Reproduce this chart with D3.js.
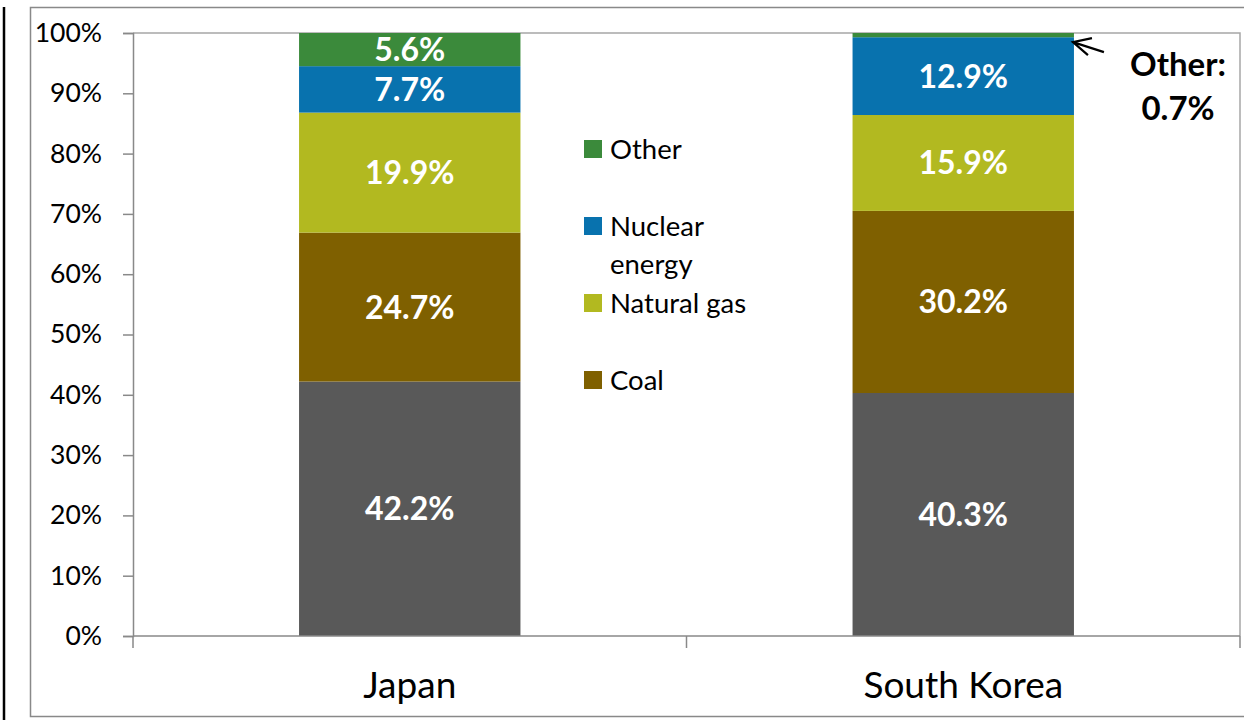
<!DOCTYPE html>
<html><head><meta charset="utf-8">
<script src="https://cdn.jsdelivr.net/npm/d3@7"></script>
<style>
html,body{margin:0;padding:0;background:#fff;}
svg{display:block;font-family:Lato, "Open Sans", sans-serif;}
</style></head>
<body><svg id="chart" width="1244" height="720"></svg>
<script>
const categories = ["Japan", "South Korea"];
const seriesNames = ["Oil", "Coal", "Natural gas", "Nuclear energy", "Other"];
const oilValues = [42.2, 40.3];
const coalValues = [24.7, 30.2];
const gasValues = [19.9, 15.9];
const nuclearValues = [7.7, 12.9];
const otherValues = [5.6, 0.7];
const seriesColors = ["#595959", "#7f6000", "#b2b920", "#0872ae", "#3b8a3b"];
const yTicks = [0, 10, 20, 30, 40, 50, 60, 70, 80, 90, 100];
const legendItems = ["Other", "Nuclear energy", "Natural gas", "Coal"];

const rows = categories.map((c, i) => ({
  cat: c,
  "Oil": oilValues[i], "Coal": coalValues[i], "Natural gas": gasValues[i],
  "Nuclear energy": nuclearValues[i], "Other": otherValues[i]
}));

const svg = d3.select("#chart");
const L = 133, R = 1240, T = 33, B = 636;

// outer decorations
svg.append("line").attr("x1", 4).attr("x2", 4).attr("y1", 7).attr("y2", 720)
  .attr("stroke", "#000").attr("stroke-width", 2.5);
svg.append("rect").attr("x", 30.5).attr("y", 7.5).attr("width", 1230).attr("height", 709)
  .attr("fill", "none").attr("stroke", "#898989").attr("stroke-width", 1.5);

const x = d3.scaleBand().domain(categories).range([L, R]).paddingInner(0.6).paddingOuter(0.3);
const y = d3.scaleLinear().domain([0, 100]).range([B, T]).clamp(true);

// plot area border (top/right)
svg.append("path").attr("d", `M${L},${T}H${R}V${B}`).attr("fill", "none")
  .attr("stroke", "#a6a6a6").attr("stroke-width", 1.5);

const stack = d3.stack().keys(seriesNames);
const stacked = stack(rows);

const g = svg.append("g");
stacked.forEach((s, si) => {
  g.selectAll(null).data(s).enter().append("rect")
    .attr("x", d => x(d.data.cat))
    .attr("width", x.bandwidth())
    .attr("y", d => y(d[1]))
    .attr("height", d => y(d[0]) - y(d[1]))
    .attr("fill", seriesColors[si]);
});

// bar labels
stacked.forEach((s, si) => {
  g.selectAll(null).data(s.filter(d => d[1] - d[0] >= 2)).enter().append("text")
    .attr("x", d => x(d.data.cat) + x.bandwidth() / 2)
    .attr("y", d => (y(d[0]) + y(d[1])) / 2)
    .attr("dy", "0.36em")
    .attr("text-anchor", "middle")
    .attr("fill", "#fff").attr("font-weight", "bold").attr("font-size", 32)
    .text(d => (d[1] - d[0]).toFixed(1) + "%");
});

// y axis
const yAxis = d3.axisLeft(y).tickValues(yTicks).tickSize(10).tickFormat(d => d + "%");
const ya = svg.append("g").attr("transform", `translate(${L},0)`).call(yAxis);
ya.select(".domain").attr("stroke", "#898989").attr("stroke-width", 1.5);
ya.selectAll(".tick line").attr("stroke", "#898989").attr("stroke-width", 1.5);
ya.selectAll(".tick text").attr("font-size", 26.5).attr("fill", "#000")
  .attr("font-family", "Lato, sans-serif").attr("x", -31);

// x axis
const xAxis = d3.axisBottom(x).tickSize(0).tickSizeOuter(0);
const xa = svg.append("g").attr("transform", `translate(0,${B})`).call(xAxis);
xa.select(".domain").attr("stroke", "#898989").attr("stroke-width", 1.5).attr("d", `M${L},0H${R}`);
xa.selectAll(".tick text").attr("font-size", 37).attr("fill", "#000")
  .attr("font-family", "Lato, sans-serif").attr("y", 0).attr("dy", "1.68em");
const bounds = [L, (L + R) / 2, R];
xa.selectAll(null).data(bounds).enter().append("line")
  .attr("x1", d => d).attr("x2", d => d).attr("y1", 0).attr("y2", 12)
  .attr("stroke", "#898989").attr("stroke-width", 1.5);

// legend
const legendY = [149, 226, 303, 380];
const lg = svg.append("g");
legendItems.forEach((name, i) => {
  const ci = seriesNames.indexOf(name);
  lg.append("rect").attr("x", 584).attr("y", legendY[i] - 9).attr("width", 18).attr("height", 18)
    .attr("fill", seriesColors[ci]);
  const t = lg.append("text").attr("x", 610).attr("y", legendY[i]).attr("dy", "0.36em")
    .attr("font-size", 27.5).attr("fill", "#000");
  if (name === "Nuclear energy") {
    t.text("Nuclear");
    lg.append("text").attr("x", 610).attr("y", legendY[i] + 38).attr("dy", "0.36em")
      .attr("font-size", 27.5).attr("fill", "#000").text("energy");
  } else t.text(name);
});

// annotation for Korea "Other"
const kOther = stacked[4][1];
const tipX = x("South Korea") + x.bandwidth() - 1, tipY = (y(kOther[0]) + y(kOther[1])) / 2 + 7;
svg.append("path")
  .attr("d", `M${tipX + 31},${tipY + 10}L${tipX},${tipY}M${tipX + 19},${tipY - 4}L${tipX},${tipY}L${tipX + 15},${tipY + 13}`)
  .attr("fill", "none").attr("stroke", "#000").attr("stroke-width", 2.2);
svg.append("text").attr("x", 1178).attr("y", 76).attr("text-anchor", "middle")
  .attr("font-size", 33).attr("font-weight", "bold").text("Other:");
svg.append("text").attr("x", 1178).attr("y", 120).attr("text-anchor", "middle")
  .attr("font-size", 33).attr("font-weight", "bold").text(kOther[1] - kOther[0] < 1 ? (kOther[1] - kOther[0]).toFixed(1) + "%" : "");
</script>
</body></html>
